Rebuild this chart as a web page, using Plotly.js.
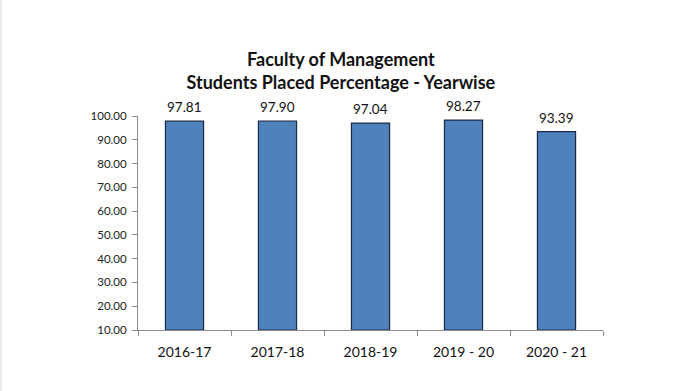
<!DOCTYPE html>
<html>
<head>
<meta charset="utf-8">
<script src="https://cdn.plot.ly/plotly-3.0.1.min.js"></script>
<style>
html,body{margin:0;padding:0;background:#fff;}
#chart{width:695px;height:391px;box-sizing:border-box;border-left:2px solid #ebebeb;}
</style>
</head>
<body>
<div id="chart"></div>
<script>
const years = ["2016-17", "2017-18", "2018-19", "2019 - 20", "2020 - 21"];
const placedPct = [97.81, 97.90, 97.04, 98.27, 93.39];
const yTicks = [10, 20, 30, 40, 50, 60, 70, 80, 90, 100];
const yTickLabels = ["10.00", "20.00", "30.00", "40.00", "50.00", "60.00", "70.00", "80.00", "90.00", "100.00"];
const axisMin = 10;

const fontFam = "Lato, 'Open Sans', sans-serif";

const trace = {
  type: "bar",
  x: years,
  base: axisMin,
  y: placedPct.map(v => v - axisMin),
  marker: {color: "#4F81BD", line: {color: "#1a2a44", width: 1.2}},
  cliponaxis: false,
  hoverinfo: "skip"
};

const labels = years.map((c, i) => ({
  x: c, y: placedPct[i], xref: "x", yref: "y",
  text: placedPct[i].toFixed(2), showarrow: false,
  yanchor: "bottom", yshift: 4,
  font: {family: fontFam, size: 13.5, color: "#111"}
}));

const layout = {
  width: 693, height: 391,
  margin: {l: 136, r: 92, t: 116, b: 61},
  paper_bgcolor: "#fff", plot_bgcolor: "#fff",
  showlegend: false,
  bargap: 0.59,
  annotations: labels,
  title: {
    text: "<b>Faculty of Management<br>Students Placed Percentage - Yearwise</b>",
    font: {family: fontFam, size: 18, color: "#111"},
    x: 0.489, xanchor: "center", xref: "container",
    y: 0.832, yanchor: "middle"
  },
  xaxis: {
    type: "category",
    showline: true, linecolor: "#8c8c8c", linewidth: 1,
    ticks: "outside", tickson: "boundaries", ticklen: 5, tickcolor: "#8c8c8c",
    ticklabelstandoff: 9,
    tickfont: {family: fontFam, size: 14, color: "#111"},
    showgrid: false, zeroline: false
  },
  yaxis: {
    range: [axisMin, 100],
    tickmode: "array", tickvals: yTicks, ticktext: yTickLabels,
    showline: true, linecolor: "#8c8c8c", linewidth: 1,
    ticks: "outside", ticklen: 5, tickcolor: "#8c8c8c",
    ticklabelstandoff: 3,
    tickfont: {family: fontFam, size: 11.5, color: "#222"},
    showgrid: false, zeroline: false
  }
};

Plotly.newPlot("chart", [trace], layout, {displayModeBar: false, staticPlot: true});
</script>
</body>
</html>
